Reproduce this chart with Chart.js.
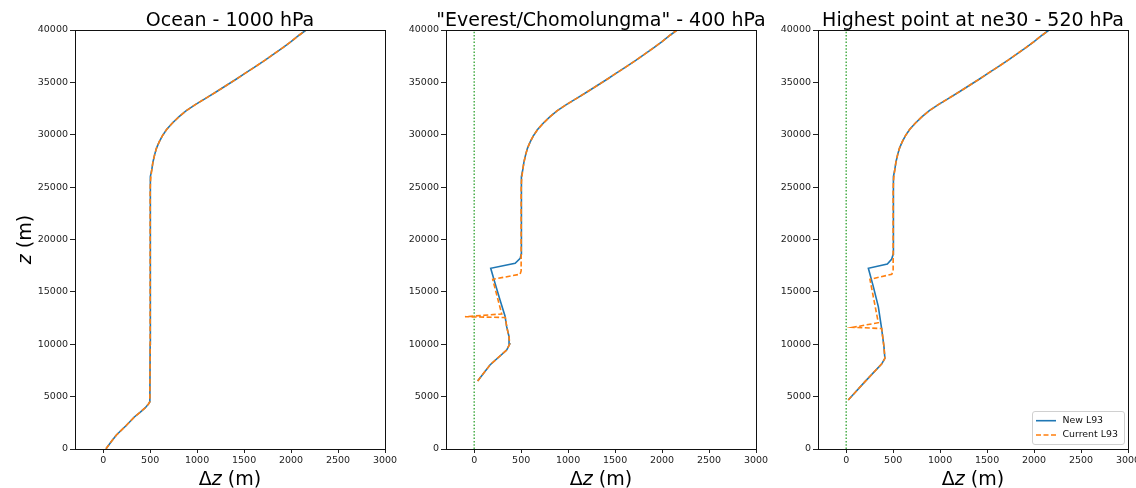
<!DOCTYPE html>
<html>
<head>
<meta charset="utf-8">
<script src="https://cdn.jsdelivr.net/npm/chart.js@4.4.1/dist/chart.umd.min.js"></script>
<style>
  html, body { margin: 0; padding: 0; background: #fff; }
  #wrap { position: relative; width: 1136px; height: 488px; overflow: hidden; }
  .panel { position: absolute; top: 0; height: 488px; }
  canvas { display: block; }
</style>
</head>
<body>
<div id="wrap">
  <div class="panel" style="left:0px;width:400px"><canvas id="c0" width="400" height="488"></canvas></div>
  <div class="panel" style="left:400px;width:371px"><canvas id="c1" width="371" height="488"></canvas></div>
  <div class="panel" style="left:771px;width:365px"><canvas id="c2" width="365" height="488"></canvas></div>
</div>
<script>
// ---- axis ticks ----
const xTicks = [0, 500, 1000, 1500, 2000, 2500, 3000];
const zTicks = [0, 5000, 10000, 15000, 20000, 25000, 30000, 35000, 40000];

// ---- panel titles and series names ----
const panelTitles = ['Ocean - 1000 hPa', '"Everest/Chomolungma" - 400 hPa', 'Highest point at ne30 - 520 hPa'];
const seriesNames = ['New L93', 'Current L93'];

// ---- upper part of the grid, common to every surface pressure (z, Δz in m) ----
const upperZ  = [24700, 25500, 26000, 26700, 27400, 28100, 28700, 29300, 29900, 30500, 31100, 31700, 32300,
                 32900, 33500, 34100, 34700, 35300, 35900, 36500, 37100, 37700, 38300, 38900, 39500, 40000];
const upperDz = [500, 503, 508, 518, 530, 548, 567, 595, 630, 675, 735, 805, 885,
                 985, 1095, 1205, 1310, 1415, 1517, 1620, 1720, 1815, 1910, 2000, 2085, 2160];

// ---- ocean column (both grids identical) ----
const oceanZ  = [20, 700, 1340, 2200, 3080, 3600, 3940, 4300, 4520, 10000, 15000, 20000];
const oceanDz = [30, 85, 141, 240, 335, 405, 449, 482, 497, 500, 500, 500];

// ---- Everest column ----
const everestNewZ  = [6490, 8020, 9450, 10020, 10720, 11680, 12700, 14230, 15820, 17250, 17730, 18200, 18600, 20000];
const everestNewDz = [37, 168, 346, 378, 371, 346, 328, 275, 222, 176, 436, 490, 500, 500];
const everestCurZ  = [6490, 8020, 9450, 10020, 10720, 11680, 12550, 12630, 12890, 16200, 16680, 17000, 20000];
const everestCurDz = [37, 168, 346, 378, 371, 346, 332, -98, 293, 197, 488, 500, 500];

// ---- highest ne30 point ----
const ne30NewZ  = [4680, 6430, 8110, 8660, 9770, 11520, 13590, 15500, 17250, 17660, 18140, 18600, 20000];
const ne30NewDz = [22, 200, 377, 412, 402, 377, 342, 289, 236, 438, 485, 500, 500];
const ne30CurZ  = [4680, 6430, 8110, 8660, 9770, 11500, 11620, 12060, 16200, 16680, 17000, 20000];
const ne30CurDz = [22, 200, 377, 412, 402, 378, 76, 342, 253, 485, 500, 500];

// zero reference line
const zeroLineZ = [0, 40000];

const FONT = "'DejaVu Sans', 'Liberation Sans', sans-serif";
const BLUE = '#1f77b4', ORANGE = '#ff7f0e', GREEN = '#2ca02c';

const toPoints = (z, dz) => z.map((v, i) => ({ x: dz[i], y: v }));
const withUpper = (z, dz) => toPoints(z.concat(upperZ), dz.concat(upperDz));

function seriesSets(newPts, curPts, zeroLine) {
  const sets = [
    { label: seriesNames[1], data: curPts, borderColor: ORANGE, borderWidth: 1.6, borderDash: [5, 2.5], order: 0 },
    { label: seriesNames[0], data: newPts, borderColor: BLUE, borderWidth: 1.6, order: 1 }
  ];
  if (zeroLine) {
    sets.push({ label: '', data: zeroLineZ.map(z => ({ x: 0, y: z })), borderColor: GREEN,
                borderWidth: 1.3, borderDash: [1.5, 1.8], order: 2 });
  }
  return sets;
}

// Δz (m) / z (m) titles with an italic z
function drawRich(ctx, parts, cx, y, size) {
  let total = 0;
  parts.forEach(p => {
    ctx.font = (p[1] ? 'italic ' : '') + size + 'px ' + FONT;
    p.w = ctx.measureText(p[0]).width;
    total += p.w;
  });
  let x = cx - total / 2;
  parts.forEach(p => {
    ctx.font = (p[1] ? 'italic ' : '') + size + 'px ' + FONT;
    ctx.fillText(p[0], x, y);
    x += p.w;
  });
}

const decorPlugin = {
  id: 'decor',
  afterDraw(chart, args, opts) {
    const { ctx, chartArea: a } = chart;
    ctx.save();
    // axes frame
    ctx.strokeStyle = '#111';
    ctx.lineWidth = 1;
    ctx.strokeRect(a.left + 0.5, a.top + 0.5, a.right - a.left, a.bottom - a.top);

    ctx.fillStyle = '#000';
    ctx.textAlign = 'left';
    ctx.textBaseline = 'alphabetic';
    const cx = (a.left + a.right) / 2;
    // panel title
    ctx.font = '19px ' + FONT;
    ctx.textAlign = 'center';
    ctx.fillText(opts.title, cx, a.top - 4.5);
    ctx.textAlign = 'left';
    // x title
    drawRich(ctx, [['Δ', 0], ['z', 1], [' (m)', 0]], cx, a.bottom + 35.5, 19);
    // y title
    if (opts.yTitle) {
      ctx.save();
      ctx.translate(a.left - 44.5, (a.top + a.bottom) / 2);
      ctx.rotate(-Math.PI / 2);
      drawRich(ctx, [['z', 1], [' (m)', 0]], 0, 0, 19);
      ctx.restore();
    }
    // legend
    if (opts.legend) {
      const items = chart.data.datasets.filter(d => d.label).sort((p, q) => q.order - p.order);
      const w = 92, h = 33;
      const left = a.right - 4 - w, top = a.bottom - 5 - h;
      ctx.beginPath();
      if (ctx.roundRect) ctx.roundRect(left + 0.5, top + 0.5, w, h, 2.5);
      else ctx.rect(left + 0.5, top + 0.5, w, h);
      ctx.fillStyle = 'rgba(255,255,255,0.8)';
      ctx.fill();
      ctx.strokeStyle = '#d0d0d0';
      ctx.lineWidth = 1;
      ctx.stroke();
      ctx.font = '9.4px ' + FONT;
      ctx.textBaseline = 'middle';
      items.forEach((d, i) => {
        const y = top + 9.7 + i * 14.3;
        ctx.beginPath();
        ctx.strokeStyle = d.borderColor;
        ctx.lineWidth = d.borderWidth;
        ctx.setLineDash(d.borderDash || []);
        ctx.moveTo(left + 4, y);
        ctx.lineTo(left + 24, y);
        ctx.stroke();
        ctx.setLineDash([]);
        ctx.fillStyle = '#111';
        ctx.fillText(d.label, left + 30.5, y);
      });
    }
    ctx.restore();
  }
};

function makeChart(id, datasets, yWidth, rightPad, opts) {
  return new Chart(document.getElementById(id), {
    type: 'line',
    data: { datasets },
    plugins: [decorPlugin],
    options: {
      responsive: false,
      animation: false,
      events: [],
      parsing: true,
      layout: { padding: { top: 30, right: rightPad, bottom: 0, left: 0 } },
      elements: { point: { radius: 0, hoverRadius: 0 }, line: { tension: 0, fill: false } },
      plugins: { legend: { display: false }, tooltip: { enabled: false }, title: { display: false }, decor: opts },
      scales: {
        x: {
          type: 'linear', min: -300, max: 3000,
          afterBuildTicks: s => { s.ticks = xTicks.map(v => ({ value: v })); },
          afterFit: s => { s.height = 39; s.paddingLeft = 0; s.paddingRight = 0; },
          ticks: { callback: v => String(v), font: { family: FONT, size: 9.5 }, color: '#222',
                   padding: 2, maxRotation: 0, autoSkip: false },
          grid: { drawOnChartArea: false, drawTicks: true, tickLength: 4, color: '#222', lineWidth: 1 },
          border: { display: false }
        },
        y: {
          type: 'linear', min: 0, max: 40000,
          afterBuildTicks: s => { s.ticks = zTicks.map(v => ({ value: v })); },
          afterFit: s => { s.width = yWidth; s.paddingTop = 0; s.paddingBottom = 0; },
          ticks: { callback: v => String(v), font: { family: FONT, size: 9.5 }, color: '#222',
                   padding: 2, autoSkip: false },
          grid: { drawOnChartArea: false, drawTicks: true, tickLength: 5, color: '#222', lineWidth: 1 },
          border: { display: false }
        }
      }
    }
  });
}

makeChart('c0', seriesSets(withUpper(oceanZ, oceanDz), withUpper(oceanZ, oceanDz), false),
          75, 15, { title: panelTitles[0], yTitle: true, legend: false });
makeChart('c1', seriesSets(withUpper(everestNewZ, everestNewDz), withUpper(everestCurZ, everestCurDz), true),
          46, 15, { title: panelTitles[1], yTitle: false, legend: false });
makeChart('c2', seriesSets(withUpper(ne30NewZ, ne30NewDz), withUpper(ne30CurZ, ne30CurDz), true),
          47, 8, { title: panelTitles[2], yTitle: false, legend: true });
</script>
</body>
</html>
